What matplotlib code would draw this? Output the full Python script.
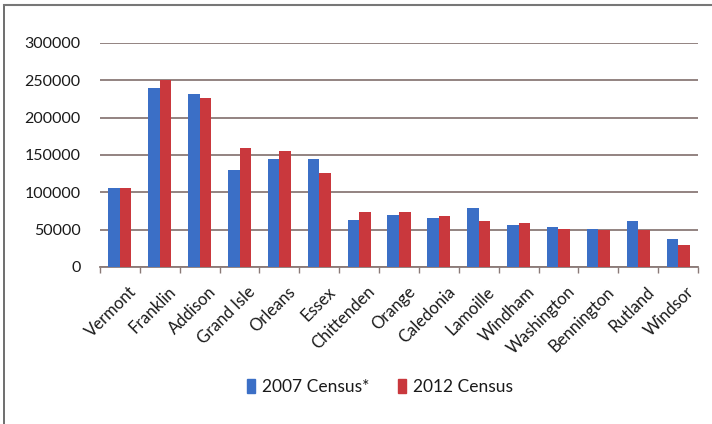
import matplotlib
matplotlib.use("Agg")
import matplotlib.pyplot as plt
import matplotlib.transforms as mtransforms
import numpy as np
from matplotlib.lines import Line2D

counties = ["Vermont", "Franklin", "Addison", "Grand Isle", "Orleans", "Essex",
            "Chittenden", "Orange", "Caledonia", "Lamoille", "Windham",
            "Washington", "Bennington", "Rutland", "Windsor"]
census_2007 = [105500, 240000, 231500, 130000, 144000, 144000,
               63500, 70000, 65500, 79500, 56000, 53500, 51000, 61000, 37000]
census_2012 = [106000, 251000, 227000, 159000, 156000, 125500,
               73000, 73000, 68000, 61000, 58500, 51000, 49000, 49000, 30000]
series_labels = ["2007 Census*", "2012 Census"]
yticks = [0, 50000, 100000, 150000, 200000, 250000, 300000]

blue = "#3b6fc6"
red = "#c9383d"
grid_c = "#8a7a77"
text_c = "#1a1a1a"

plt.rcParams["font.family"] = ["Lato", "DejaVu Sans"]

fig = plt.figure(figsize=(7.12, 4.24), dpi=100)
W, H = 712, 424
ax = fig.add_axes([100 / W, 1 - 267 / H, 598 / W, 224 / H])

x = np.arange(len(counties))
bw = 0.29
ax.bar(x - bw / 2, census_2007, bw, color=blue, zorder=3, label=series_labels[0])
ax.bar(x + bw / 2, census_2012, bw, color=red, zorder=3, label=series_labels[1])

ax.set_xlim(-0.5, len(counties) - 0.5)
ax.set_ylim(0, 300000)
ax.set_yticks(yticks)
ax.set_yticklabels([str(v) for v in yticks], fontsize=11.5, color=text_c)
ax.yaxis.grid(True, color=grid_c, linewidth=1.3, zorder=0)
ax.tick_params(axis="y", length=0, pad=14)

ax.set_xticks(x)
ax.set_xticklabels(counties, rotation=45, ha="right", va="top",
                   rotation_mode="anchor", fontsize=12, color=text_c)
ax.tick_params(axis="x", length=0, pad=12)
shift = mtransforms.ScaledTranslation(8 / 100, 0, fig.dpi_scale_trans)
for lbl in ax.get_xticklabels():
    lbl.set_transform(lbl.get_transform() + shift)

# category boundary ticks
ax.set_xticks(np.arange(-0.5, len(counties), 1.0), minor=True)
ax.tick_params(axis="x", which="minor", length=4, color=grid_c, width=1)

for s in ["top", "right", "left"]:
    ax.spines[s].set_visible(False)
ax.spines["bottom"].set_color(grid_c)
ax.spines["bottom"].set_linewidth(1.3)

handles = [plt.Rectangle((0, 0), 1, 1, color=blue), plt.Rectangle((0, 0), 1, 1, color=red)]
fig.legend(handles, series_labels, loc="center", bbox_to_anchor=(380 / W, 1 - 387 / H),
           ncol=2, frameon=False, fontsize=12.5, handlelength=0.5, handleheight=0.9,
           handletextpad=0.4, columnspacing=1.6, labelcolor=text_c)

# outer frame lines
fig.add_artist(Line2D([4 / W, 4 / W], [0, 1 - 5 / H], transform=fig.transFigure,
                      color="#555555", linewidth=1.2))
fig.add_artist(Line2D([4 / W, 1], [1 - 5 / H, 1 - 5 / H], transform=fig.transFigure,
                      color="#777777", linewidth=1.5))

fig.savefig("out.png", dpi=100)
